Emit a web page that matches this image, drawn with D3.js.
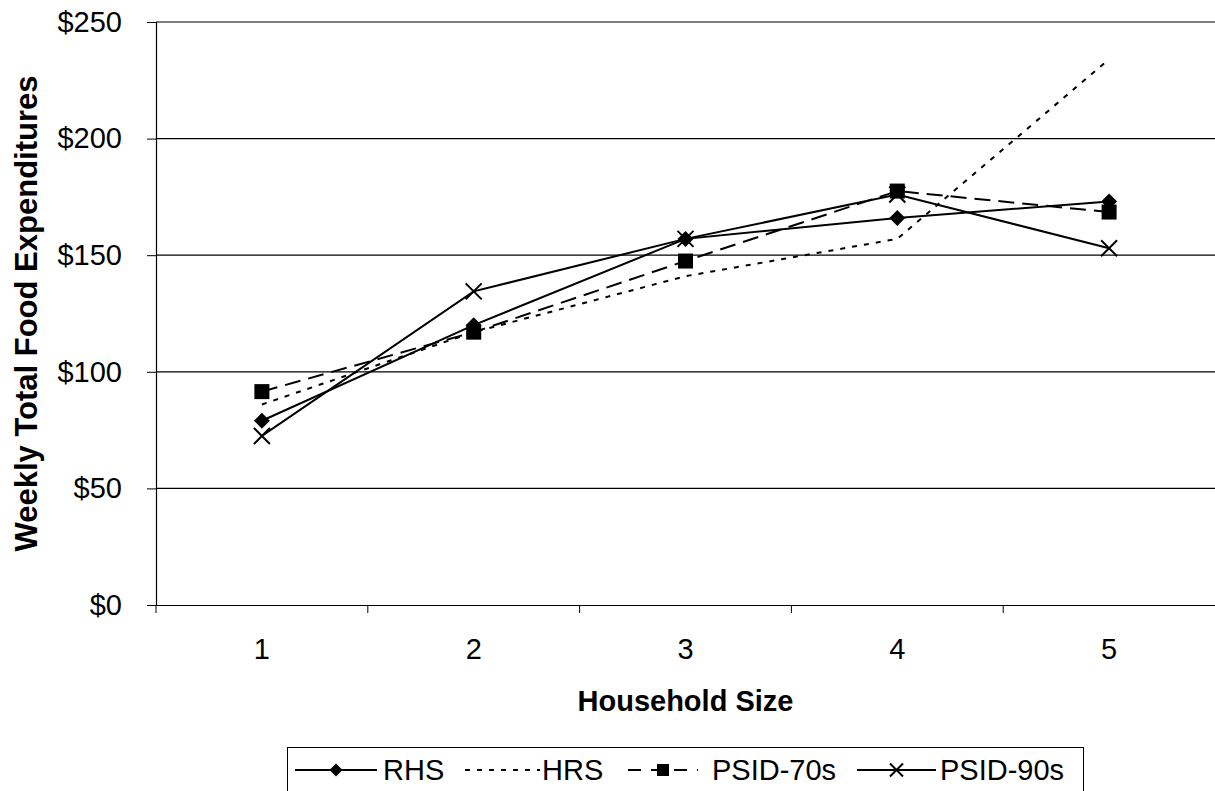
<!DOCTYPE html>
<html>
<head>
<meta charset="utf-8">
<script src="https://cdn.jsdelivr.net/npm/d3@7"></script>
<style>
  body { margin: 0; background: #fff; }
  svg { font-family: "Liberation Sans", Arial, sans-serif; }
</style>
</head>
<body>
<svg id="chart" width="1215" height="791"></svg>
<script>
// household sizes and weekly food spending per survey
var sizes = ['1', '2', '3', '4', '5'],
    rhs = [79, 120, 157, 166, 173],
    hrs = [86, 117, 141, 157, 234],
    psid70 = [91.5, 117, 147.5, 177.5, 168.5],
    psid90 = [72.5, 134.5, 157, 176, 153],
    yTicks = [0, 50, 100, 150, 200, 250];

var svg = d3.select('#chart'),
    pLeft = 156, pTop = 22, pBottom = 605, pRight = 1215,
    fs = 29;

var x = d3.scaleBand().domain(sizes).range([pLeft, pRight]),
    y = d3.scaleLinear().domain([0, 250]).range([pBottom, pTop]);

// gridlines
svg.append('g').selectAll('line').data(yTicks.slice(1)).enter().append('line')
  .attr('x1', pLeft).attr('x2', pRight)
  .attr('y1', function(d){ return y(d) }).attr('y2', function(d){ return y(d) })
  .attr('stroke', '#000').attr('stroke-width', 1.2)

// axes
var yAxis = svg.append('g').attr('transform', 'translate(' + pLeft + ',0)')
  .call(d3.axisLeft(y).tickValues(yTicks).tickSize(9).tickPadding(25).tickFormat(function(d){ return '$' + d }))
yAxis.selectAll('text').attr('font-size', fs).attr('fill', '#000')
  .attr('font-family', '"Liberation Sans", Arial, sans-serif')

var xAxis = svg.append('g').attr('transform', 'translate(0,' + pBottom + ')')
  .call(d3.axisBottom(x).tickSize(0).tickPadding(33))
xAxis.selectAll('text').attr('font-size', fs).attr('fill', '#000')
  .attr('font-family', '"Liberation Sans", Arial, sans-serif')
// ticks between categories
xAxis.selectAll('.sep').data(sizes).enter().append('line').attr('class', 'sep')
  .attr('x1', function(d){ return x(d) }).attr('x2', function(d){ return x(d) })
  .attr('y1', 0).attr('y2', 8).attr('stroke', '#000')
svg.selectAll('.domain').attr('stroke', '#000').attr('stroke-width', 1.2)

// titles
svg.append('text').attr('x', x('3') + x.bandwidth()/2).attr('y', 711)
  .attr('text-anchor', 'middle').attr('font-size', fs).attr('font-weight', 'bold')
  .text('Household Size')
svg.append('text').attr('transform', 'translate(37,' + (pTop + pBottom)/2 + ') rotate(-90)')
  .attr('text-anchor', 'middle').attr('font-size', 31).attr('font-weight', 'bold')
  .text('Weekly Total Food Expenditures')

var series = [
  {name: 'RHS', values: rhs, dash: null, marker: 'diamond'},
  {name: 'HRS', values: hrs, dash: '5,7', marker: null},
  {name: 'PSID-70s', values: psid70, dash: '16,8', marker: 'square'},
  {name: 'PSID-90s', values: psid90, dash: null, marker: 'cross'}
]

var cx = function(i){ return x(sizes[i]) + x.bandwidth()/2 }
var line = d3.line().x(function(d, i){ return cx(i) }).y(function(d){ return y(d) })

function marker(g, type, px, py, r) {
  if (type === 'diamond') {
    g.append('path').attr('d', 'M' + px + ',' + (py-r) + 'L' + (px+r) + ',' + py + 'L' + px + ',' + (py+r) + 'L' + (px-r) + ',' + py + 'Z')
      .attr('fill', '#000')
  } else if (type === 'square') {
    g.append('rect').attr('x', px-r+0.5).attr('y', py-r+0.5).attr('width', 2*r-1).attr('height', 2*r-1).attr('fill', '#000')
  } else if (type === 'cross') {
    g.append('path').attr('d', 'M' + (px-r) + ',' + (py-r) + 'L' + (px+r) + ',' + (py+r) + 'M' + (px+r) + ',' + (py-r) + 'L' + (px-r) + ',' + (py+r))
      .attr('stroke', '#000').attr('stroke-width', 2).attr('fill', 'none')
  }
}

series.forEach(function(s) {
  var g = svg.append('g')
  g.append('path').datum(s.values).attr('d', line)
    .attr('fill', 'none').attr('stroke', '#000').attr('stroke-width', 2)
    .attr('stroke-dasharray', s.dash)
  if (s.marker) s.values.forEach(function(v, i){ marker(g, s.marker, cx(i), y(v), 8) })
})

// legend
var leg = svg.append('g')
leg.append('rect').attr('x', 287.5).attr('y', 747.5).attr('width', 796).attr('height', 60)
  .attr('fill', '#fff').attr('stroke', '#000').attr('stroke-width', 1)
var legItems = [
  {x0: 295, x1: 377, tx: 383},
  {x0: 465, x1: 540, tx: 542},
  {x0: 628, x1: 698, tx: 712},
  {x0: 857, x1: 936, tx: 940}
]
series.forEach(function(s, i) {
  var it = legItems[i], ly = 770
  leg.append('line').attr('x1', it.x0).attr('x2', it.x1).attr('y1', ly).attr('y2', ly)
    .attr('stroke', '#000').attr('stroke-width', 2).attr('stroke-dasharray', s.dash === '16,8' ? '13,10' : s.dash)
  if (s.marker) marker(leg, s.marker, (it.x0 + it.x1)/2, ly, 6.5)
  leg.append('text').attr('x', it.tx).attr('y', ly + 10).attr('font-size', fs).text(s.name)
})
</script>
</body>
</html>
